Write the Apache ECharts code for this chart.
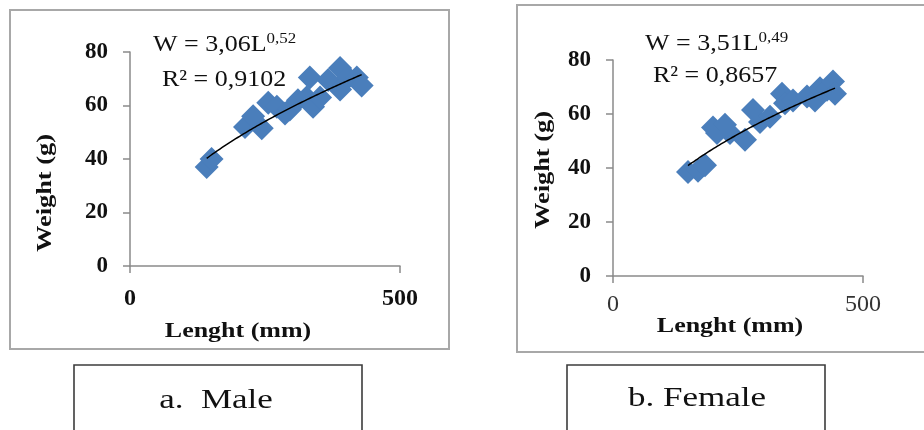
<!DOCTYPE html>
<html>
<head>
<meta charset="utf-8">
<script src="https://cdn.jsdelivr.net/npm/echarts@6/dist/echarts.min.js"></script>
<style>
html,body{margin:0;padding:0;background:#fff;}
#c{width:924px;height:430px;}
</style>
</head>
<body>
<div id="c"></div>
<script>
// ---- data ----
var maleLength = [142, 151, 213, 228, 244, 256, 272, 287, 296, 311, 327, 333, 339, 352, 367, 389, 389, 404, 420, 429];
var maleWeight = [37, 40, 52, 56, 51.5, 61, 59.5, 57, 58.5, 62, 63, 70.5, 59.5, 63, 69.5, 66, 74, 70.5, 70.5, 67.5];
var femaleLength = [150, 170, 184, 200, 208, 224, 234, 264, 280, 294, 314, 338, 344, 360, 388, 404, 414, 428, 440, 444];
var femaleWeight = [38.5, 39, 41, 55, 53, 56, 53, 50.5, 61.5, 57, 59, 67.5, 64, 65, 66.5, 65, 69.5, 69, 72, 67.5];
// power fit coefficients printed on the chart: W = a * L^b
var maleFit = [3.06, 0.52];
var femaleFit = [3.51, 0.49];
var yTicks = [0, 20, 40, 60, 80];
var xTicks = [0, 500];
var maleEquation = ['W = 3,06L', '0,52', 'R² = 0,9102'];
var femaleEquation = ['W = 3,51L', '0,49', 'R² = 0,8657'];
var captions = ['a.  Male', 'b. Female'];
var axisTitles = ['Lenght (mm)', 'Weight (g)'];

function pairs(xs, ys) { return xs.map(function (x, i) { return [x, ys[i]]; }); }
function fitLine(xs, coef) {
  var lo = Math.min.apply(null, xs), hi = Math.max.apply(null, xs), out = [];
  var n = 40;
  for (var i = 0; i <= n; i++) {
    var x = lo + (hi - lo) * i / n;
    out.push([x, coef[0] * Math.pow(x, coef[1])]);
  }
  return out;
}

var serif = 'Liberation Serif';
var axisColor = '#8a8a8a';
var blue = '#4A7EBB';

function xAxisCfg(gridIndex, bold, margin, color) {
  return {
    type: 'value', gridIndex: gridIndex,
    min: xTicks[0], max: xTicks[xTicks.length - 1], interval: 500,
    splitLine: { show: false },
    axisLine: { show: true, lineStyle: { color: axisColor, width: 1.5 } },
    axisTick: { show: true, length: 7, lineStyle: { color: axisColor, width: 1.5 } },
    axisLabel: { margin: margin, fontFamily: serif, fontSize: 24, fontWeight: bold ? 'bold' : 'normal', color: color }
  };
}
function yAxisCfg(gridIndex) {
  return {
    type: 'value', gridIndex: gridIndex,
    min: yTicks[0], max: yTicks[yTicks.length - 1], interval: 20,
    splitLine: { show: false },
    axisLine: { show: true, lineStyle: { color: axisColor, width: 1.5 } },
    axisTick: { show: true, length: 7, lineStyle: { color: axisColor, width: 1.5 } },
    axisLabel: { margin: 22, fontFamily: serif, fontSize: 23, fontWeight: 'bold', color: '#111' }
  };
}

function eqGraphic(x, y, eq, ry, rx) {
  return [
    {
      type: 'text', x: x, y: y, scaleX: 1.13, z: 10,
      style: {
        text: '{m|' + eq[0] + '}{s|' + eq[1] + '}',
        fontFamily: serif, fill: '#111', align: 'left', verticalAlign: 'middle',
        rich: {
          m: { fontFamily: serif, fontSize: 23, fill: '#111' },
          s: { fontFamily: serif, fontSize: 15, fill: '#111', verticalAlign: 'top', padding: [0, 0, 12, 0] }
        }
      }
    },
    {
      type: 'text', x: rx, y: ry, scaleX: 1.13, z: 10,
      style: { text: eq[2], fontFamily: serif, fontSize: 23, fill: '#111', align: 'left', verticalAlign: 'middle' }
    }
  ];
}

var graphics = [
  { type: 'rect', shape: { x: 10, y: 10, width: 439, height: 339 }, style: { fill: 'none', stroke: '#a8a8a8', lineWidth: 2 }, z: -1 },
  { type: 'rect', shape: { x: 517, y: 5, width: 420, height: 347 }, style: { fill: 'none', stroke: '#a8a8a8', lineWidth: 2 }, z: -1 },
  { type: 'rect', shape: { x: 74, y: 365, width: 288, height: 90 }, style: { fill: 'none', stroke: '#3c3c3c', lineWidth: 1.6 } },
  { type: 'rect', shape: { x: 567, y: 365, width: 258, height: 90 }, style: { fill: 'none', stroke: '#3c3c3c', lineWidth: 1.6 } },
  { type: 'text', x: 216, y: 401, scaleX: 1.25, style: { text: captions[0], fontFamily: serif, fontSize: 28, fill: '#111', align: 'center', verticalAlign: 'middle' } },
  { type: 'text', x: 697, y: 399, scaleX: 1.25, style: { text: captions[1], fontFamily: serif, fontSize: 28, fill: '#111', align: 'center', verticalAlign: 'middle' } },
  { type: 'text', x: 238, y: 331, scaleX: 1.18, style: { text: axisTitles[0], fontFamily: serif, fontSize: 22, fontWeight: 'bold', fill: '#111', align: 'center', verticalAlign: 'middle' } },
  { type: 'text', x: 730, y: 326, scaleX: 1.18, style: { text: axisTitles[0], fontFamily: serif, fontSize: 22, fontWeight: 'bold', fill: '#111', align: 'center', verticalAlign: 'middle' } },
  { type: 'text', x: 45, y: 193, rotation: Math.PI / 2, scaleX: 1.2, style: { text: axisTitles[1], fontFamily: serif, fontSize: 22, fontWeight: 'bold', fill: '#111', align: 'center', verticalAlign: 'middle' } },
  { type: 'text', x: 543, y: 170, rotation: Math.PI / 2, scaleX: 1.2, style: { text: axisTitles[1], fontFamily: serif, fontSize: 22, fontWeight: 'bold', fill: '#111', align: 'center', verticalAlign: 'middle' } }
].concat(eqGraphic(153, 45, maleEquation, 80, 162)).concat(eqGraphic(645, 44, femaleEquation, 76, 653));

var chart = echarts.init(document.getElementById('c'), null, { renderer: 'canvas' });
chart.setOption({
  animation: false,
  backgroundColor: '#fff',
  grid: [
    { left: 130, top: 52, width: 270, height: 214 },
    { left: 613, top: 60, width: 250, height: 216 }
  ],
  xAxis: [xAxisCfg(0, true, 21, '#111'), xAxisCfg(1, false, 17, '#333')],
  yAxis: [yAxisCfg(0), yAxisCfg(1)],
  series: [
    { type: 'scatter', xAxisIndex: 0, yAxisIndex: 0, symbol: 'diamond', symbolSize: 24, itemStyle: { color: blue, opacity: 1 }, data: pairs(maleLength, maleWeight) },
    { type: 'line', xAxisIndex: 0, yAxisIndex: 0, showSymbol: false, symbol: 'none', smooth: true, lineStyle: { color: '#000', width: 1.5 }, z: 5, data: fitLine(maleLength, maleFit) },
    { type: 'scatter', xAxisIndex: 1, yAxisIndex: 1, symbol: 'diamond', symbolSize: 24, itemStyle: { color: blue, opacity: 1 }, data: pairs(femaleLength, femaleWeight) },
    { type: 'line', xAxisIndex: 1, yAxisIndex: 1, showSymbol: false, symbol: 'none', smooth: true, lineStyle: { color: '#000', width: 1.5 }, z: 5, data: fitLine(femaleLength, femaleFit) }
  ],
  graphic: graphics
});
</script>
</body>
</html>
